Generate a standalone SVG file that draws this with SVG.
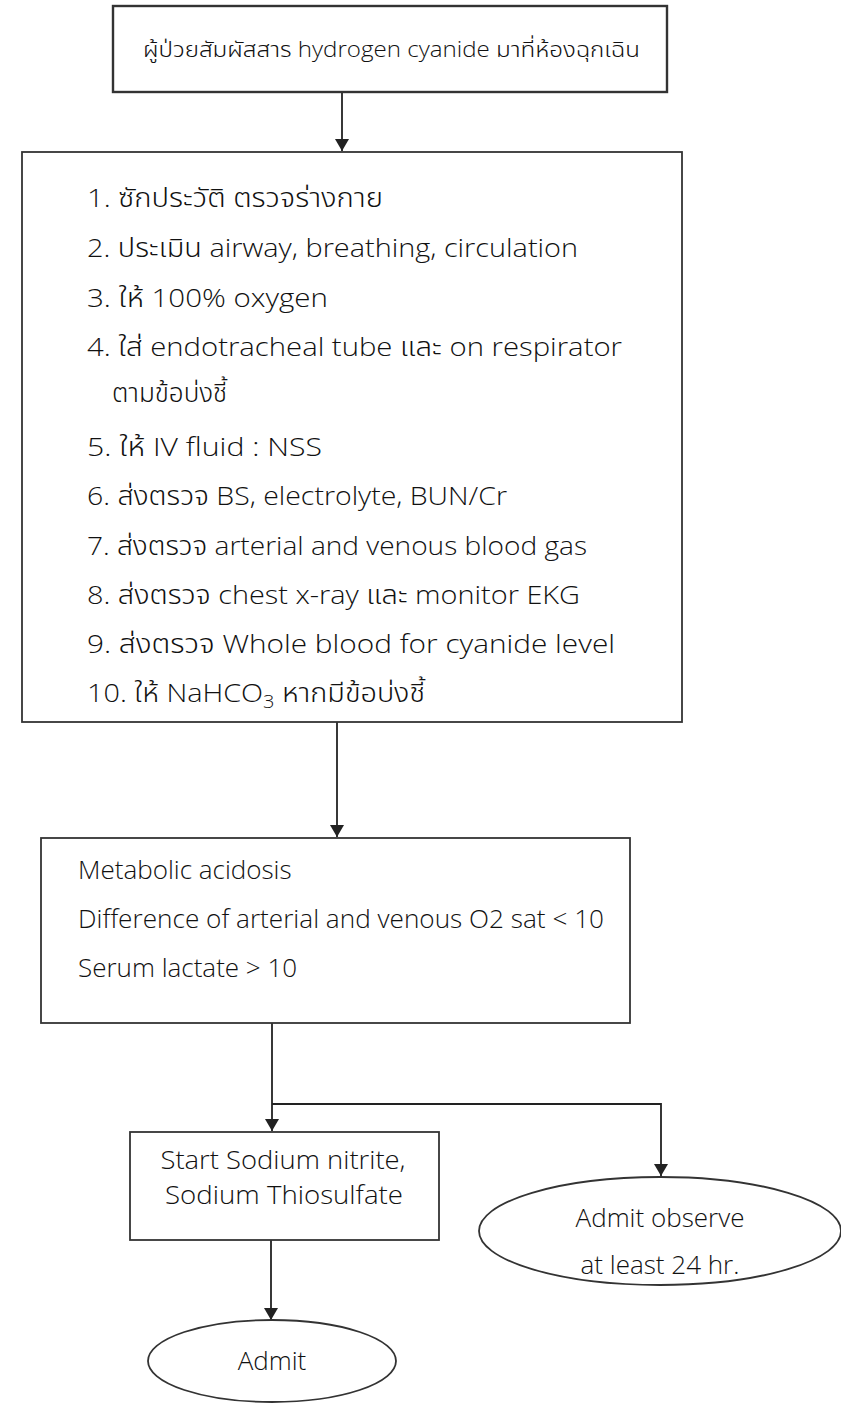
<svg xmlns="http://www.w3.org/2000/svg" width="841" height="1407" viewBox="0 0 841 1407">
<defs>
<marker id="ah" viewBox="0 0 12 14" refX="12" refY="7" markerWidth="12" markerHeight="14" markerUnits="userSpaceOnUse" orient="auto">
<path d="M0,0 L12,7 L0,14 z" fill="#222"/>
</marker>
<style>
.box{fill:#fff;stroke:#333;stroke-width:1.8}
.t{font-family:"Open Sans","Noto Sans","Noto Sans Thai","DejaVu Sans",sans-serif;font-weight:300;font-size:26px;fill:#111}
.c{text-anchor:middle}
.ln{fill:none;stroke:#222;stroke-width:1.8}
</style>
</defs>
<rect width="841" height="1407" fill="#fff"/>
<g id="connectors">
<line class="ln" x1="342" y1="92" x2="342" y2="151" marker-end="url(#ah)"/>
<line class="ln" x1="337" y1="722" x2="337" y2="837" marker-end="url(#ah)"/>
<line class="ln" x1="272" y1="1023" x2="272" y2="1131" marker-end="url(#ah)"/>
<polyline class="ln" points="272,1104 661,1104 661,1176" marker-end="url(#ah)"/>
<line class="ln" x1="271" y1="1240" x2="271" y2="1320" marker-end="url(#ah)"/>
</g>
<g id="start">
<rect class="box" x="113" y="6" width="554" height="86" style="stroke-width:2.4"/>
<text class="t" x="143" y="57" style="font-size:22px" textLength="497" lengthAdjust="spacingAndGlyphs">ผู้ป่วยสัมผัสสาร hydrogen cyanide มาที่ห้องฉุกเฉิน</text>
</g>
<g id="steps">
<rect class="box" x="22" y="152" width="660" height="570"/>
<text class="t" x="87" y="207" textLength="296" lengthAdjust="spacingAndGlyphs">1. ซักประวัติ ตรวจร่างกาย</text>
<text class="t" x="87" y="257" textLength="491" lengthAdjust="spacingAndGlyphs">2. ประเมิน airway, breathing, circulation</text>
<text class="t" x="87" y="307" textLength="241" lengthAdjust="spacingAndGlyphs">3. ให้ 100% oxygen</text>
<text class="t" x="87" y="356" textLength="535" lengthAdjust="spacingAndGlyphs">4. ใส่ endotracheal tube และ on respirator</text>
<text class="t" x="112" y="402">ตามข้อบ่งชี้</text>
<text class="t" x="87" y="456" textLength="235" lengthAdjust="spacingAndGlyphs">5. ให้ IV fluid : NSS</text>
<text class="t" x="87" y="505" textLength="420" lengthAdjust="spacingAndGlyphs">6. ส่งตรวจ BS, electrolyte, BUN/Cr</text>
<text class="t" x="87" y="555" textLength="500" lengthAdjust="spacingAndGlyphs">7. ส่งตรวจ arterial and venous blood gas</text>
<text class="t" x="87" y="604" textLength="493" lengthAdjust="spacingAndGlyphs">8. ส่งตรวจ chest x-ray และ monitor EKG</text>
<text class="t" x="87" y="653" textLength="528" lengthAdjust="spacingAndGlyphs">9. ส่งตรวจ Whole blood for cyanide level</text>
<text class="t" x="87" y="702" textLength="338" lengthAdjust="spacingAndGlyphs">10. ให้ NaHCO<tspan dy="6" style="font-size:18px">3</tspan><tspan dy="-6"> หากมีข้อบ่งชี้</tspan></text>
</g>
<g id="criteria">
<rect class="box" x="41" y="838" width="589" height="185"/>
<text class="t" x="78" y="879">Metabolic acidosis</text>
<text class="t" x="78" y="928" textLength="526" lengthAdjust="spacingAndGlyphs">Difference of arterial and venous O2 sat &lt; 10</text>
<text class="t" x="78" y="977">Serum lactate &gt; 10</text>
</g>
<g id="treatment">
<rect class="box" x="130" y="1132" width="309" height="108"/>
<text class="t c" x="283" y="1169" textLength="245" lengthAdjust="spacingAndGlyphs">Start Sodium nitrite,</text>
<text class="t c" x="284" y="1204" textLength="238" lengthAdjust="spacingAndGlyphs">Sodium Thiosulfate</text>
</g>
<g id="observe">
<ellipse class="box" cx="660" cy="1231" rx="181" ry="54"/>
<text class="t c" x="660" y="1227">Admit observe</text>
<text class="t c" x="660" y="1274">at least 24 hr.</text>
</g>
<g id="admit">
<ellipse class="box" cx="272" cy="1361" rx="124" ry="41"/>
<text class="t c" x="272" y="1370">Admit</text>
</g>
</svg>
